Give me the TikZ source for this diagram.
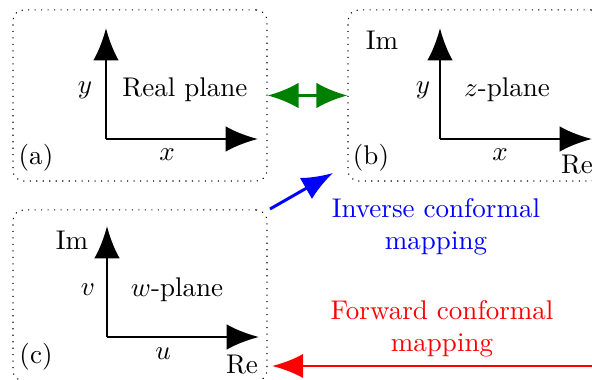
\documentclass[tikz,border=0pt]{standalone}
\usepackage{tikz}
\usetikzlibrary{arrows.meta,positioning}
\definecolor{mapgreen}{RGB}{0,128,0}

\begin{document}
\begin{tikzpicture}[
  x=0.37pt, y=-0.37pt,
  panel/.style={draw, dotted, rounded corners=4pt, inner sep=0pt, minimum width=94pt, minimum height=63.3pt},
  axis/.style={line width=1.1pt, -{Latex[length=12pt,width=9.5pt]}},
  maparrow/.style={line width=1.1pt, {Latex[length=11.5pt,width=9.5pt]}-{Latex[length=11.5pt,width=9.5pt]}},
  onearrow/.style={line width=1.1pt, -{Latex[length=11.5pt,width=9pt]}}
]
\clip (0,0) rectangle (592,380);
% the three planes
\node[panel] (pa) at (140,95.5) {};
\node[panel] (pb) at (475,95.5) {};
\node[panel] (pc) at (140,295.5) {};
% axes
\foreach \id/\x/\y in {a/106/139,b/440/139,c/107/337} {
  \coordinate (o\id) at (\x,\y);
  \coordinate (t\id) at (\x,\y-111);
  \coordinate (r\id) at (\x+152,\y);
  \draw[axis] (o\id) -- (t\id);
  \draw[axis] (o\id) -- (r\id);
}
% labels
\node (ya) at (85,90) {$y$};
\node (xa) at (167,155) {$x$};
\node (na) at (185,90) {Real plane};
\node (la) at (36,158) {(a)};
\node (imb) at (382,40) {Im};
\node (yb) at (423,90) {$y$};
\node (nb) at (507,90) {$z$-plane};
\node (xb) at (500,155) {$x$};
\node (reb) at (577,165) {Re};
\node (lb) at (371,158) {(b)};
\node (imc) at (72,240) {Im};
\node (vc) at (88,290) {$v$};
\node (nc) at (177,290) {$w$-plane};
\node (uc) at (163,354) {$u$};
\node (rec) at (242,365) {Re};
\node (lc) at (36,357) {(c)};
% mappings
\draw[maparrow, mapgreen] (pa.east) -- (pb.west);
\coordinate (invS) at (270,209);
\coordinate (invE) at (333,173);
\draw[onearrow, blue] (invS) -- (invE);
\node[blue, align=center] (inv) at (436,227) {Inverse conformal\\mapping};
\coordinate (fwdS) at (600,366);
\coordinate (fwdE) at (272,366);
\draw[onearrow, red] (fwdS) -- (fwdE);
\node[red, align=center] (fwd) at (442,329) {Forward conformal\\mapping};
\end{tikzpicture}
\end{document}
